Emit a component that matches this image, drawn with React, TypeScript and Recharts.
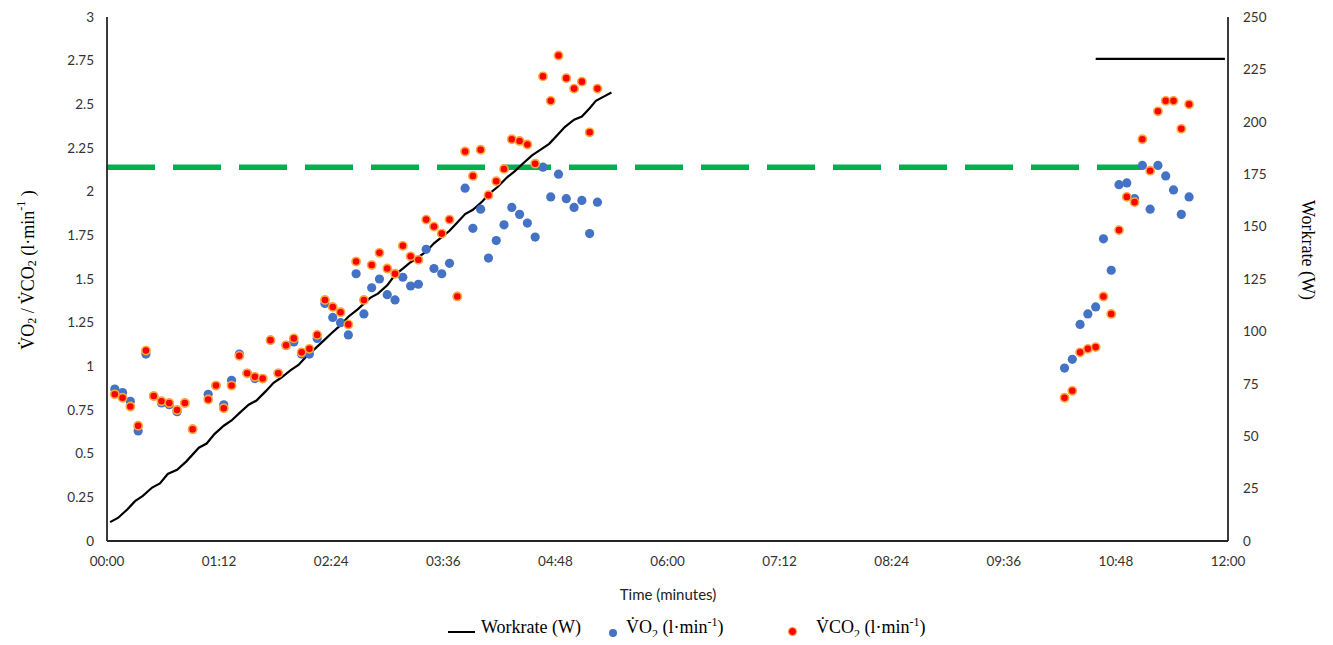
import React from 'react';
import { ComposedChart, Line, Scatter, XAxis, YAxis } from 'recharts';

// sample times in seconds (5 s averages), two bouts
const sampleTimes = [
  5, 10, 15, 20, 25, 30, 35, 40, 45, 50, 55,
  65, 70, 75, 80, 85, 90, 95, 100, 105, 110, 115, 120, 125, 130, 135, 140, 145, 150, 155,
  160, 165, 170, 175, 180, 185, 190, 195, 200, 205, 210, 215, 220, 225, 230, 235, 240, 245,
  250, 255, 260, 265, 270, 275, 280, 285, 290, 295, 300, 305, 310, 315,
  615, 620, 625, 630, 635, 640, 645, 650, 655, 660, 665, 670, 675, 680, 685, 690, 695,
];

const vo2 = [
  0.87, 0.85, 0.8, 0.63, 1.07, 0.83, 0.79, 0.78, 0.74, 0.79, 0.64,
  0.84, 0.89, 0.78, 0.92, 1.07, 0.96, 0.93, 0.93, 1.15, 0.96, 1.12, 1.14, 1.07, 1.07, 1.16, 1.36, 1.28, 1.25, 1.18,
  1.53, 1.3, 1.45, 1.5, 1.41, 1.38, 1.51, 1.46, 1.47, 1.67, 1.56, 1.53, 1.59, 1.4, 2.02, 1.79, 1.9, 1.62,
  1.72, 1.81, 1.91, 1.87, 1.82, 1.74, 2.14, 1.97, 2.1, 1.96, 1.91, 1.95, 1.76, 1.94,
  0.99, 1.04, 1.24, 1.3, 1.34, 1.73, 1.55, 2.04, 2.05, 1.96, 2.15, 1.9, 2.15, 2.09, 2.01, 1.87, 1.97,
];

const vco2 = [
  0.84, 0.82, 0.77, 0.66, 1.09, 0.83, 0.8, 0.79, 0.75, 0.79, 0.64,
  0.81, 0.89, 0.76, 0.89, 1.06, 0.96, 0.94, 0.93, 1.15, 0.96, 1.12, 1.16, 1.08, 1.1, 1.18, 1.38, 1.34, 1.31, 1.24,
  1.6, 1.38, 1.58, 1.65, 1.56, 1.53, 1.69, 1.63, 1.61, 1.84, 1.8, 1.76, 1.84, 1.4, 2.23, 2.09, 2.24, 1.98,
  2.06, 2.13, 2.3, 2.29, 2.27, 2.16, 2.66, 2.52, 2.78, 2.65, 2.59, 2.63, 2.34, 2.59,
  0.82, 0.86, 1.08, 1.1, 1.11, 1.4, 1.3, 1.78, 1.97, 1.94, 2.3, 2.12, 2.46, 2.52, 2.52, 2.36, 2.5,
];

const workTimes = [
  2, 7, 13, 18, 23, 29, 34, 39, 45, 51, 59, 64, 69, 75, 80, 85, 91, 96, 102, 107, 112, 118, 123, 128,
  134, 139, 144, 150, 155, 161, 169, 174, 180, 185, 190, 195, 200, 205, 210, 215, 220, 225, 230, 235,
  241, 246, 251, 257, 262, 267, 273, 278, 284, 289, 294, 300, 305, 310, 314, 319, 324,
  500, 635, 718,
];

const workrate = [
  9, 11, 15, 19, 21.5, 25.5, 27.5, 32, 34, 38, 44.5, 46.5, 51, 55, 57.5, 61, 65, 67, 71.5, 75.5, 78, 81.5, 84, 88,
  92, 95.5, 99, 103, 107, 110.5, 116, 118, 122, 127, 130, 133, 135.5, 138, 142, 145, 148, 152, 156, 158,
  162, 166, 169, 173.5, 176.5, 180, 184, 186.5, 189.5, 193.5, 197.5, 201, 202.5, 206.5, 210, 212, 214,
  null, 230, 230,
];

const thresholdTimes = [0, 665];
const thresholdValue = 2.14;

const xTicks = [0, 72, 144, 216, 288, 360, 432, 504, 576, 648, 720];
const leftTicks = [0, 0.25, 0.5, 0.75, 1, 1.25, 1.5, 1.75, 2, 2.25, 2.5, 2.75, 3];
const rightTicks = [0, 25, 50, 75, 100, 125, 150, 175, 200, 225, 250];

const gasData = sampleTimes.map((t, i) => ({ t, vo2: vo2[i], vco2: vco2[i] }));
const workData = workTimes.map((t, i) => ({ t, w: workrate[i] }));
const thresholdData = thresholdTimes.map((t) => ({ t, v: thresholdValue }));

const SERIF = '"Liberation Serif", "Times New Roman", serif';
const SANS = 'Lato, "Open Sans", sans-serif';

const fmtTime = (t: number) =>
  `${String(Math.floor(t / 60)).padStart(2, '0')}:${String(t % 60).padStart(2, '0')}`;

const BlueDot = (props: any) => <circle cx={props.cx} cy={props.cy} r={4.6} fill="#4472C4" />;
const RedDot = (props: any) => (
  <circle cx={props.cx} cy={props.cy} r={4.1} fill="#FF0000" stroke="#FFA53C" strokeWidth={1.6} />
);

const LeftTitle = () => (
  <text x={20} y={262} transform="rotate(-90, 20, 262)" textAnchor="middle" dominantBaseline="central"
    fontFamily={SERIF} fontSize={18} fill="#000">
    V&#775;O<tspan dy={4} fontSize={12}>2</tspan>
    <tspan dy={-4}> / V&#775;CO</tspan>
    <tspan dy={4} fontSize={12}>2</tspan>
    <tspan dy={-4}> (l·min</tspan>
    <tspan dy={-7} fontSize={12}>-1</tspan>
    <tspan dy={7}> )</tspan>
  </text>
);

const RightTitle = () => (
  <text x={1300} y={242} transform="rotate(90, 1300, 242)" textAnchor="middle" dominantBaseline="central"
    fontFamily={SERIF} fontSize={18} fill="#000">
    Workrate (W)
  </text>
);

const BottomTitle = () => (
  <text x={660} y={586} textAnchor="middle" dominantBaseline="central" fontFamily={SANS} fontSize={15} fill="#222">
    Time (minutes)
  </text>
);

const tickStyle = { fontFamily: SANS, fontSize: 13.5, fill: '#333' };
const axisStroke = { stroke: '#262626', strokeWidth: 1.8 };

const subStyle: React.CSSProperties = { fontSize: 12, verticalAlign: 'baseline', position: 'relative', top: 5 };
const supStyle: React.CSSProperties = { fontSize: 12, verticalAlign: 'baseline', position: 'relative', top: -7 };

export default function App() {
  const legendText: React.CSSProperties = {
    position: 'absolute', top: 609, fontFamily: SERIF, fontSize: 18, lineHeight: '20px', whiteSpace: 'nowrap', color: '#000',
  };
  return (
    <div style={{ position: 'relative', width: 1317, height: 629 }}>
      <ComposedChart width={1317} height={600} margin={{ top: 9, right: 0, bottom: 7, left: 0 }}>
        <XAxis
          type="number"
          dataKey="t"
          domain={[0, 720]}
          ticks={xTicks}
          tickFormatter={fmtTime}
          tick={tickStyle}
          tickLine={false}
          tickSize={0}
          tickMargin={15}
          axisLine={axisStroke}
          height={60}
          allowDataOverflow
          label={<BottomTitle />}
        />
        <YAxis
          yAxisId="left"
          domain={[0, 3]}
          ticks={leftTicks}
          tick={tickStyle}
          tickLine={false}
          tickSize={0}
          tickMargin={13}
          axisLine={axisStroke}
          width={99}
          allowDataOverflow
          label={<LeftTitle />}
        />
        <YAxis
          yAxisId="right"
          orientation="right"
          domain={[0, 250]}
          ticks={rightTicks}
          tick={{ ...tickStyle, textAnchor: 'start' }}
          tickLine={false}
          tickSize={0}
          tickMargin={15}
          axisLine={axisStroke}
          width={97}
          allowDataOverflow
          label={<RightTitle />}
        />
        <Line
          yAxisId="left"
          data={thresholdData}
          dataKey="v"
          stroke="#00B050"
          strokeWidth={5.5}
          strokeDasharray="48 18"
          dot={false}
          activeDot={false}
          isAnimationActive={false}
        />
        <Line
          yAxisId="right"
          data={workData}
          dataKey="w"
          type="linear"
          stroke="#000"
          strokeWidth={2.2}
          dot={false}
          activeDot={false}
          connectNulls={false}
          isAnimationActive={false}
        />
        <Scatter yAxisId="left" data={gasData} dataKey="vo2" shape={<BlueDot />} isAnimationActive={false} />
        <Scatter yAxisId="left" data={gasData} dataKey="vco2" shape={<RedDot />} isAnimationActive={false} />
      </ComposedChart>

      {/* legend */}
      <div style={{ position: 'absolute', left: 440, top: 623, width: 27, height: 2, background: '#000' }} />
      <div style={{ ...legendText, left: 473 }}>Workrate (W)</div>
      <div style={{ position: 'absolute', left: 601, top: 621, width: 8, height: 8, borderRadius: '50%', background: '#4472C4' }} />
      <div style={{ ...legendText, left: 618 }}>
        V&#775;O<span style={subStyle}>2</span> (l·min<span style={supStyle}>-1</span>)
      </div>
      <div style={{ position: 'absolute', left: 780, top: 619, width: 7, height: 7, borderRadius: '50%', background: '#FF0000', border: '1.5px solid #FFA53C' }} />
      <div style={{ ...legendText, left: 808 }}>
        V&#775;CO<span style={subStyle}>2</span> (l·min<span style={supStyle}>-1</span>)
      </div>
    </div>
  );
}
